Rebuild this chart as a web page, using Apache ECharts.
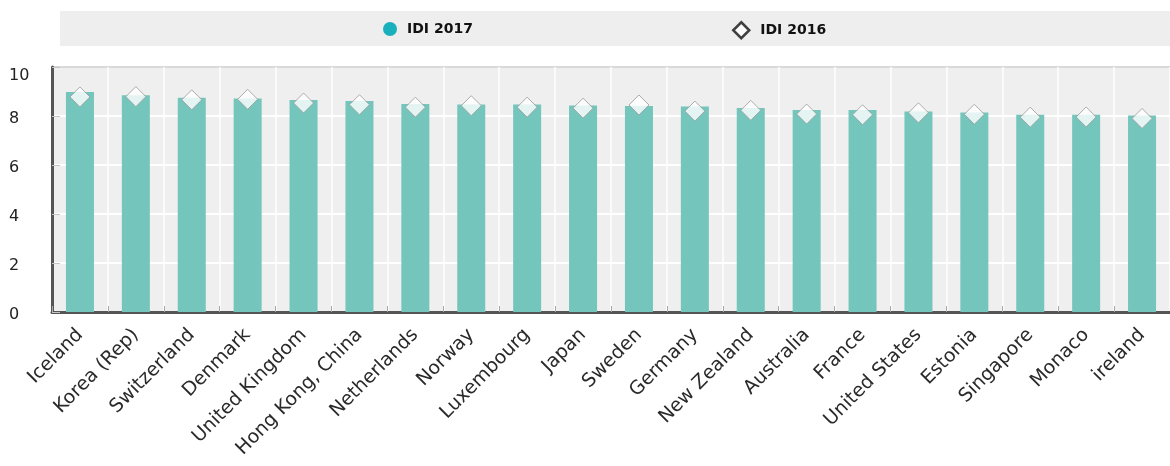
<!DOCTYPE html>
<html>
<head>
<meta charset="utf-8">
<title>ICT Development Index</title>
<script src="https://cdn.jsdelivr.net/npm/echarts@6/dist/echarts.min.js"></script>
<style>
  html, body { margin: 0; padding: 0; background: #ffffff; }
  #chart { width: 1170px; height: 466px; }
</style>
</head>
<body>
<div id="chart"></div>
<script>
// Top 20 economies by ICT Development Index
const categories = ['Iceland', 'Korea (Rep)', 'Switzerland', 'Denmark', 'United Kingdom',
  'Hong Kong, China', 'Netherlands', 'Norway', 'Luxembourg', 'Japan', 'Sweden', 'Germany',
  'New Zealand', 'Australia', 'France', 'United States', 'Estonia', 'Singapore', 'Monaco', 'ireland'];
const idi2017 = [8.98, 8.85, 8.74, 8.71, 8.65, 8.61, 8.49, 8.47, 8.47, 8.43,
  8.41, 8.39, 8.33, 8.24, 8.24, 8.18, 8.14, 8.05, 8.05, 8.02];
const idi2016 = [8.78, 8.79, 8.66, 8.68, 8.53, 8.46, 8.36, 8.42, 8.36, 8.32,
  8.45, 8.20, 8.23, 8.08, 8.05, 8.13, 8.07, 7.95, 7.96, 7.90];
const yTicks = { min: 0, max: 10, interval: 2 };

const labelFont = 'DejaVu Sans';
const legendText = (gap) => ({ fontFamily: labelFont, fontWeight: 'bold', fontSize: 14, color: '#111', padding: [0, 0, 0, gap] });
const chart = echarts.init(document.getElementById('chart'), null, { renderer: 'canvas' });

chart.setOption({
  animation: false,
  backgroundColor: '#ffffff',
  graphic: [{
    type: 'rect',
    z: 0,
    shape: { x: 60, y: 11, width: 1110, height: 35 },
    style: { fill: '#eeeeee' }
  }],
  legend: [{
    z: 5,
    left: 378,
    top: 17,
    itemWidth: 14,
    itemHeight: 14,
    data: [{ name: 'IDI 2017', icon: 'circle', itemStyle: { color: '#19afbd' } }],
    textStyle: legendText(5)
  }, {
    z: 5,
    left: 727,
    top: 16,
    itemWidth: 16,
    itemHeight: 16,
    data: [{ name: 'IDI 2016', icon: 'diamond',
      itemStyle: { color: '#ffffff', borderColor: '#111111', borderWidth: 2.5 } }],
    textStyle: legendText(6)
  }],
  grid: {
    left: 52, right: -8, top: 67, bottom: 154,
    show: true, backgroundColor: '#efefef', borderWidth: 0
  },
  xAxis: {
    type: 'category',
    data: categories,
    axisLine: { show: true, lineStyle: { color: '#555555', width: 3 } },
    axisTick: { show: true, inside: true, length: 6, lineStyle: { color: '#aaaaaa', width: 1 } },
    splitLine: { show: true, lineStyle: { color: '#ffffff', width: 1.5 } },
    axisLabel: { interval: 0, rotate: 45, margin: 20, fontFamily: labelFont, fontSize: 19, color: '#2a2a2a' }
  },
  yAxis: {
    type: 'value',
    min: yTicks.min,
    max: yTicks.max,
    interval: yTicks.interval,
    axisLine: { show: true, lineStyle: { color: '#555555', width: 3 } },
    axisTick: { show: true, inside: true, length: 8, lineStyle: { color: '#c4c4c4', width: 1 } },
    splitLine: { show: true, lineStyle: { color: ['#ffffff', '#ffffff', '#ffffff', '#ffffff', '#ffffff', '#d9d9d9'], width: 2 } },
    axisLabel: {
      margin: 43, align: 'left', color: '#222',
      formatter: v => (v === yTicks.max ? '{top|' + v + '}' : '{n|' + v + '}'),
      rich: {
        n: { fontFamily: labelFont, fontSize: 16, color: '#222', padding: [5, 0, 0, 0] },
        top: { fontFamily: labelFont, fontSize: 16, color: '#222', padding: [18, 0, 0, 0] }
      }
    }
  },
  series: [{
    name: 'IDI 2017',
    type: 'bar',
    data: idi2017,
    barWidth: 28,
    itemStyle: { color: '#74c5bc' },
    z: 2
  }, {
    name: 'IDI 2016',
    type: 'scatter',
    data: idi2016,
    symbol: 'diamond',
    symbolSize: 20,
    itemStyle: { color: '#ffffff', borderColor: '#9a9a9a', borderWidth: 1 },
    z: 3
  }]
});
</script>
</body>
</html>
